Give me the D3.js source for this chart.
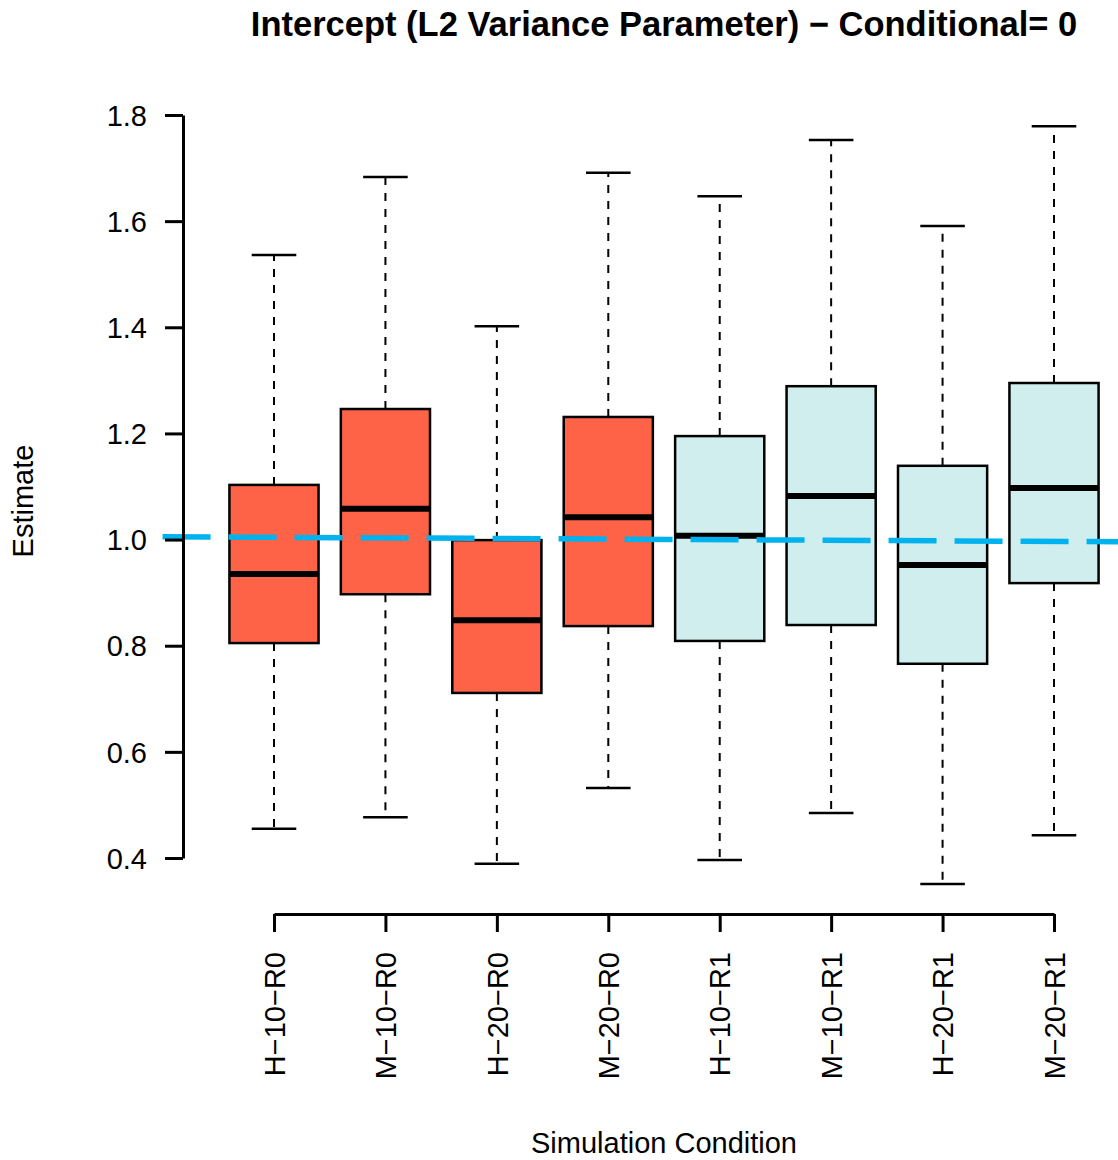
<!DOCTYPE html>
<meta charset="utf-8">
<html>
<head>
<title>Intercept boxplot</title>
<style>
    *{ margin:0; padding:0;}
    body{ background:#fff;}
    svg text{ font-family:'Liberation Sans', Arial, sans-serif; fill:#000;}
</style>
<script src="https://cdn.jsdelivr.net/npm/d3@7"></script>
</head>
<body>
<div id="chartContainer"></div>
<script>
// values
var categories = ["H\u221210\u2212R0", "M\u221210\u2212R0", "H\u221220\u2212R0", "M\u221220\u2212R0",
                  "H\u221210\u2212R1", "M\u221210\u2212R1", "H\u221220\u2212R1", "M\u221220\u2212R1"];
var lowerWhisker = [0.455, 0.477, 0.389, 0.532, 0.396, 0.485, 0.351, 0.443];
var q1           = [0.805, 0.897, 0.711, 0.837, 0.809, 0.839, 0.766, 0.918];
var medians      = [0.935, 1.058, 0.848, 1.042, 1.007, 1.082, 0.952, 1.097];
var q3           = [1.103, 1.246, 0.999, 1.231, 1.195, 1.289, 1.139, 1.295];
var upperWhisker = [1.536, 1.683, 1.402, 1.691, 1.647, 1.753, 1.591, 1.779];
var groups       = ["R0", "R0", "R0", "R0", "R1", "R1", "R1", "R1"];
var yTicks = [0.4, 0.6, 0.8, 1.0, 1.2, 1.4, 1.6, 1.8];
// reference line (in box index units)
var refX = [0, 9];
var refY = [1.0054, 0.9954];

var W = 1118, H = 1160;
var svg = d3.select("#chartContainer").append("svg")
    .attr("width", W).attr("height", H);

var x = d3.scaleLinear().domain([1, 8]).range([274, 1054]);
var y = d3.scaleLinear().domain([0.4, 1.8]).range([858, 115]);
var color = d3.scaleOrdinal().domain(["R0", "R1"]).range(["#FF6347", "#D1EEEE"]);

var step = x(2) - x(1);
var boxW = step * 0.8;
var capW = boxW * 0.5;

var data = categories.map(function (c, i) {
    return { i: i + 1, name: c, lo: lowerWhisker[i], q1: q1[i], med: medians[i],
             q3: q3[i], hi: upperWhisker[i], g: groups[i] };
});

var box = svg.append("g").selectAll("g").data(data).enter().append("g");

// whiskers
box.append("line")
    .attr("x1", function (d) { return x(d.i); }).attr("x2", function (d) { return x(d.i); })
    .attr("y1", function (d) { return y(d.q3); }).attr("y2", function (d) { return y(d.hi); })
    .attr("stroke", "#000").attr("stroke-width", 2).attr("stroke-dasharray", "8,8");
box.append("line")
    .attr("x1", function (d) { return x(d.i); }).attr("x2", function (d) { return x(d.i); })
    .attr("y1", function (d) { return y(d.q1); }).attr("y2", function (d) { return y(d.lo); })
    .attr("stroke", "#000").attr("stroke-width", 2).attr("stroke-dasharray", "8,8");
// caps
box.append("line")
    .attr("x1", function (d) { return x(d.i) - capW / 2; }).attr("x2", function (d) { return x(d.i) + capW / 2; })
    .attr("y1", function (d) { return y(d.hi); }).attr("y2", function (d) { return y(d.hi); })
    .attr("stroke", "#000").attr("stroke-width", 2.5);
box.append("line")
    .attr("x1", function (d) { return x(d.i) - capW / 2; }).attr("x2", function (d) { return x(d.i) + capW / 2; })
    .attr("y1", function (d) { return y(d.lo); }).attr("y2", function (d) { return y(d.lo); })
    .attr("stroke", "#000").attr("stroke-width", 2.5);
// boxes
box.append("rect")
    .attr("x", function (d) { return x(d.i) - boxW / 2; })
    .attr("y", function (d) { return y(d.q3); })
    .attr("width", boxW)
    .attr("height", function (d) { return y(d.q1) - y(d.q3); })
    .attr("fill", function (d) { return color(d.g); })
    .attr("stroke", "#000").attr("stroke-width", 2.5);
// medians
box.append("line")
    .attr("x1", function (d) { return x(d.i) - boxW / 2; }).attr("x2", function (d) { return x(d.i) + boxW / 2; })
    .attr("y1", function (d) { return y(d.med); }).attr("y2", function (d) { return y(d.med); })
    .attr("stroke", "#000").attr("stroke-width", 6);

// reference line
svg.append("line")
    .attr("x1", x(refX[0])).attr("x2", x(refX[1]))
    .attr("y1", y(refY[0])).attr("y2", y(refY[1]))
    .attr("stroke", "#00B2EE").attr("stroke-width", 5.5)
    .attr("stroke-dasharray", "48,18");

// y axis
var yAxis = svg.append("g").attr("transform", "translate(183,0)")
    .call(d3.axisLeft(y).tickValues(yTicks).tickSize(18).tickSizeOuter(0).tickPadding(18)
        .tickFormat(d3.format(".1f")));
yAxis.selectAll("path, line").attr("stroke", "#000").attr("stroke-width", 3);
yAxis.selectAll("text").style("font-size", "29px").attr("dy", "0.35em");

// x axis
var xAxis = svg.append("g").attr("transform", "translate(0,914)")
    .call(d3.axisBottom(x).tickValues(d3.range(1, 9)).tickSize(18).tickSizeOuter(0)
        .tickFormat(function (d) { return categories[d - 1]; }));
xAxis.selectAll("path, line").attr("stroke", "#000").attr("stroke-width", 3);
xAxis.selectAll("text")
    .style("font-size", "29px")
    .attr("x", 0).attr("y", 0).attr("dy", "0.35em")
    .attr("text-anchor", "end")
    .attr("transform", "translate(0,38) rotate(-90)");
svg.selectAll(".domain").attr("fill", "none");

// titles
svg.append("text").attr("x", 664).attr("y", 36)
    .attr("text-anchor", "middle")
    .style("font-size", "34.5px").style("font-weight", "bold")
    .text("Intercept (L2 Variance Parameter) \u2212 Conditional= 0");
svg.append("text").attr("x", 664).attr("y", 1153)
    .attr("text-anchor", "middle").style("font-size", "29px")
    .text("Simulation Condition");
svg.append("text")
    .attr("transform", "translate(33,501) rotate(-90)")
    .attr("text-anchor", "middle").style("font-size", "29px")
    .text("Estimate");
</script>
</body>
</html>
